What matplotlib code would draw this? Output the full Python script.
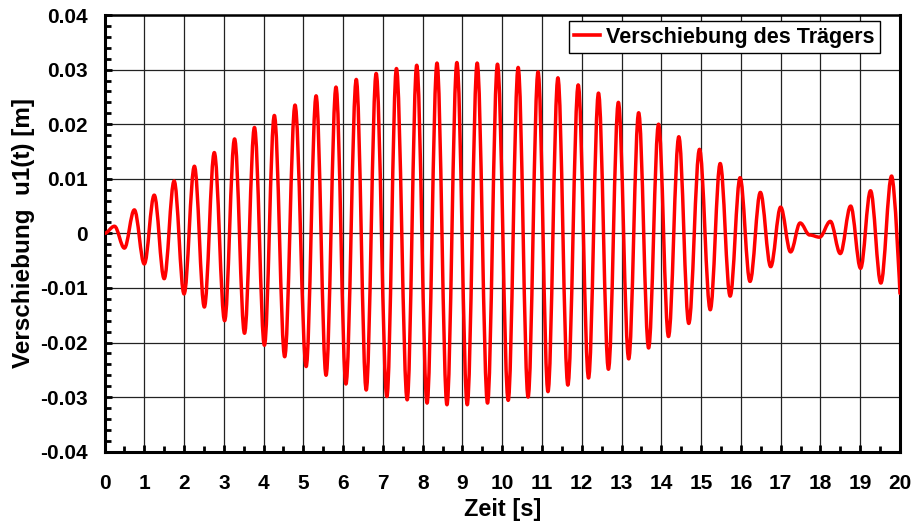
import matplotlib
matplotlib.use("Agg")
import matplotlib.pyplot as plt
from matplotlib.path import Path
from matplotlib.patches import PathPatch
from matplotlib.lines import Line2D
from matplotlib.ticker import MultipleLocator, FuncFormatter

# extrema of the beam displacement (t in s, u in m)
zeit = [0.00, 0.25, 0.50, 0.75, 1.00, 1.25, 1.50, 1.75, 2.00, 2.26,
        2.51, 2.76, 3.02, 3.27, 3.52, 3.77, 4.02, 4.27, 4.53, 4.79,
        5.07, 5.32, 5.57, 5.82, 6.07, 6.33, 6.58, 6.83, 7.10, 7.34,
        7.61, 7.85, 8.11, 8.36, 8.61, 8.86, 9.12, 9.37, 9.63, 9.88,
        10.15, 10.40, 10.65, 10.90, 11.15, 11.40, 11.65, 11.91, 12.17, 12.42,
        12.67, 12.92, 13.18, 13.43, 13.68, 13.93, 14.18, 14.44, 14.69, 14.96,
        15.23, 15.48, 15.73, 15.98, 16.23, 16.49, 16.75, 17.00, 17.25, 17.49,
        17.73, 17.98, 18.25, 18.50, 18.76, 19.01, 19.26, 19.52, 19.79, 20.00]
verschiebung = [0.0, 0.0013, -0.0027, 0.0043, -0.0056, 0.0070, -0.0083, 0.0096, -0.0111, 0.0123,
                -0.0135, 0.0148, -0.0160, 0.0173, -0.0183, 0.0194, -0.0205, 0.0216, -0.0226, 0.0235,
                -0.0244, 0.0252, -0.0260, 0.0268, -0.0276, 0.0282, -0.0287, 0.0293, -0.0299, 0.0302,
                -0.0305, 0.0308, -0.0311, 0.0312, -0.0314, 0.0313, -0.0314, 0.0312, -0.0311, 0.0310,
                -0.0306, 0.0304, -0.0300, 0.0296, -0.0290, 0.0285, -0.0278, 0.0272, -0.0265, 0.0257,
                -0.0249, 0.0240, -0.0230, 0.0221, -0.0210, 0.0200, -0.0189, 0.0177, -0.0165, 0.0154,
                -0.0140, 0.0128, -0.0115, 0.0102, -0.0088, 0.0075, -0.0061, 0.0048, -0.0034, 0.0019,
                -0.0003, -0.0007, 0.0022, -0.0037, 0.0050, -0.0064, 0.0078, -0.0091, 0.0105, -0.0110]

legend_label = "Verschiebung des Trägers"

plt.rcParams['font.family'] = ['Liberation Sans', 'DejaVu Sans']
plt.rcParams['font.weight'] = 'bold'
plt.rcParams['axes.unicode_minus'] = False

fig = plt.figure(figsize=(9.12, 5.23), dpi=100)
ax = fig.add_axes([0.1146, 0.1363, 0.8722, 0.835])

# smooth curve through the extrema (cubic bezier, flat tangent at each extremum)
k = 0.3634
verts = [(zeit[0], verschiebung[0])]
codes = [Path.MOVETO]
for i in range(len(zeit) - 1):
    d = zeit[i + 1] - zeit[i]
    c1 = (zeit[i] + k * d, verschiebung[i])
    if i == len(zeit) - 2:
        c2 = (zeit[i + 1], verschiebung[i + 1])   # last point is mid-swing
    else:
        c2 = (zeit[i + 1] - k * d, verschiebung[i + 1])
    verts += [c1, c2, (zeit[i + 1], verschiebung[i + 1])]
    codes += [Path.CURVE4] * 3
kurve = PathPatch(Path(verts, codes), facecolor='none', edgecolor='#ff0000',
                  lw=2.5, joinstyle='round', capstyle='round', zorder=3)
ax.add_patch(kurve)

ax.set_xlim(0, 20)
ax.set_ylim(-0.04, 0.04)
ax.xaxis.set_major_locator(MultipleLocator(1))
ax.xaxis.set_minor_locator(MultipleLocator(0.5))
ax.yaxis.set_major_locator(MultipleLocator(0.01))
ax.yaxis.set_minor_locator(MultipleLocator(0.002))
fmt = FuncFormatter(lambda v, p: "%g" % round(v, 4))
ax.xaxis.set_major_formatter(fmt)
ax.yaxis.set_major_formatter(fmt)

ax.grid(True, which='major', color='#222222', lw=0.9)
ax.set_axisbelow(True)
ax.tick_params(which='both', direction='in', width=2.0, color='black')
ax.tick_params(which='major', length=5)
ax.tick_params(which='minor', length=4)
ax.tick_params(axis='x', which='major', pad=16, labelsize=15)
ax.tick_params(axis='y', which='major', pad=12, labelsize=15)
for s in ax.spines.values():
    s.set_linewidth(2.2)
    s.set_color('black')
ax.spines['top'].set_linewidth(1.8)

ax.set_xlabel("Zeit [s]", fontsize=17, fontweight='bold', labelpad=4)
ax.set_ylabel("Verschiebung  u1(t) [m]", fontsize=17.5, fontweight='bold', labelpad=4)

handle = Line2D([], [], color='#ff0000', lw=2.6)
leg = ax.legend([handle], [legend_label], loc='upper right',
                bbox_to_anchor=(0.975, 0.986), borderaxespad=0, fancybox=False,
                framealpha=1, edgecolor='black', fontsize=15.5, borderpad=0.25,
                handlelength=1.2, handletextpad=0.3)
leg.get_frame().set_linewidth(1.0)
for t in leg.get_texts():
    t.set_fontweight('bold')

fig.savefig("out.png", dpi=100)
